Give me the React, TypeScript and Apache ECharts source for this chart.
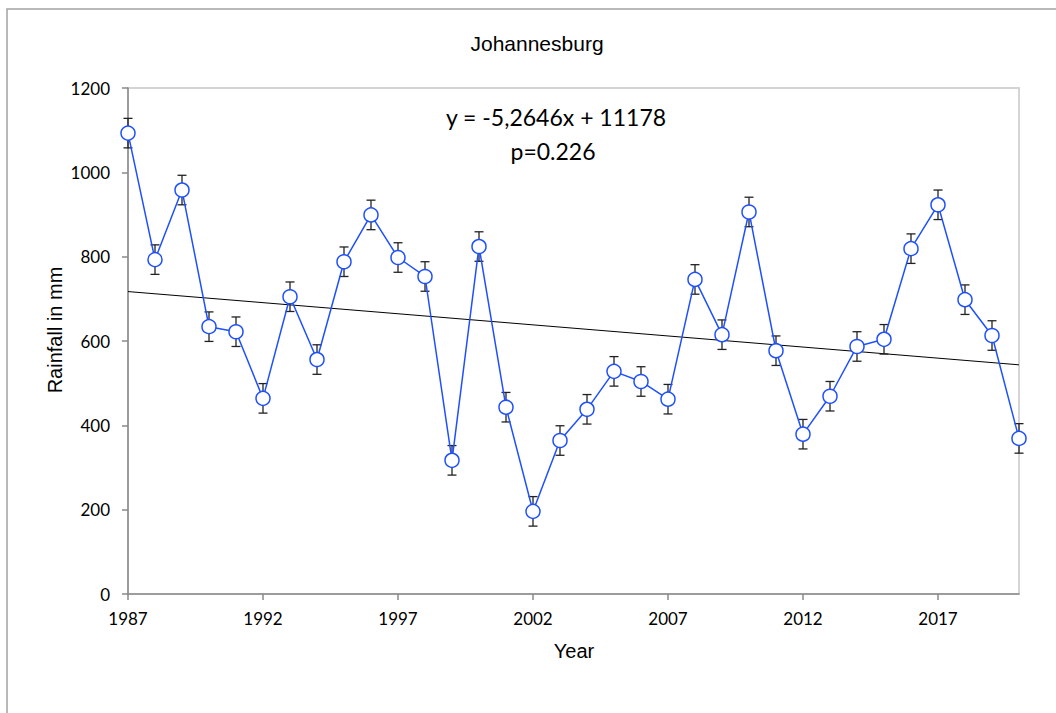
import React, { useEffect, useRef } from "react";
import * as echarts from "echarts";

const years = [1987, 1988, 1989, 1990, 1991, 1992, 1993, 1994, 1995, 1996, 1997, 1998, 1999, 2000, 2001, 2002, 2003, 2004, 2005, 2006, 2007, 2008, 2009, 2010, 2011, 2012, 2013, 2014, 2015, 2016, 2017, 2018, 2019, 2020];
const rainfall = [1093, 793, 958, 634, 622, 464, 705, 556, 788, 899, 798, 753, 317, 824, 443, 196, 364, 438, 528, 504, 462, 746, 615, 906, 577, 379, 469, 587, 604, 819, 923, 698, 613, 369];
const errorMargin = 35;
const xTickValues = [1987, 1992, 1997, 2002, 2007, 2012, 2017];
const yTickInterval = 200;
const trendSlope = -5.2646;
const trendIntercept = 11178;
const titleText = "Johannesburg";
const equationText = "y = -5,2646x + 11178";
const pText = "p=0.226";
const xName = "Year";
const yName = "Rainfall in mm";

const BLUE = "#1e50ff";
const AXIS_GRAY = "#8a8a8a";

export default function App() {
  const ref = useRef<HTMLDivElement>(null);
  useEffect(() => {
    if (!ref.current) return;
    const chart = echarts.init(ref.current, null, { renderer: "svg" });
    const x0 = years[0];
    const x1 = years[years.length - 1];
    const trend = [
      [x0, trendSlope * x0 + trendIntercept],
      [x1, trendSlope * x1 + trendIntercept],
    ];
    const errData = years.map((y, i) => [y, rainfall[i], errorMargin]);
    const pointData = years.map((y, i) => [y, rainfall[i]]);
    chart.setOption({
      animation: false,
      backgroundColor: "#ffffff",
      grid: {
        left: 128,
        right: 37,
        top: 88,
        bottom: 119,
        show: true,
        borderColor: "#d4d4d4",
        borderWidth: 2,
      },
      xAxis: {
        type: "value",
        min: x0,
        max: x1,
        splitLine: { show: false },
        axisLine: { show: true, onZero: false, lineStyle: { color: AXIS_GRAY, width: 1.5 } },
        axisTick: {
          show: true,
          inside: false,
          length: 6,
          customValues: xTickValues,
          lineStyle: { color: AXIS_GRAY, width: 1.5 },
        },
        axisLabel: {
          customValues: xTickValues,
          formatter: (v: number) => String(v),
          margin: 16,
          color: "#000",
          fontFamily: "Lato",
          fontSize: 17,
        },
      },
      yAxis: {
        type: "value",
        min: 0,
        max: 1200,
        interval: yTickInterval,
        splitLine: { show: false },
        axisLine: { show: true, lineStyle: { color: AXIS_GRAY, width: 1.5 } },
        axisTick: { show: true, inside: false, length: 6, lineStyle: { color: AXIS_GRAY, width: 1.5 } },
        axisLabel: {
          formatter: (v: number) => String(v),
          margin: 18,
          color: "#000",
          fontFamily: "Lato",
          fontSize: 17,
        },
      },
      graphic: [
        {
          type: "rect",
          shape: { x: 7, y: 9, width: 1200, height: 900 },
          style: { fill: "none", stroke: "#a3a3a3", lineWidth: 1.5 },
          silent: true,
        },
        {
          type: "text",
          x: 537,
          y: 43,
          style: {
            text: titleText,
            textAlign: "center",
            textVerticalAlign: "middle",
            font: "21px 'Liberation Sans', Arial, sans-serif",
            fill: "#000",
          },
        },
        {
          type: "text",
          x: 556,
          y: 117,
          style: {
            text: equationText,
            textAlign: "center",
            textVerticalAlign: "middle",
            font: "23px Lato, sans-serif",
            fill: "#000",
          },
        },
        {
          type: "text",
          x: 553,
          y: 151,
          style: {
            text: pText,
            textAlign: "center",
            textVerticalAlign: "middle",
            font: "23px Lato, sans-serif",
            fill: "#000",
          },
        },
        {
          type: "text",
          x: 574,
          y: 651,
          style: {
            text: xName,
            textAlign: "center",
            textVerticalAlign: "middle",
            font: "20px 'Liberation Sans', Arial, sans-serif",
            fill: "#000",
          },
        },
        {
          type: "text",
          x: 55,
          y: 330,
          rotation: Math.PI / 2,
          style: {
            text: yName,
            textAlign: "center",
            textVerticalAlign: "middle",
            font: "20px 'Liberation Sans', Arial, sans-serif",
            fill: "#000",
          },
        },
      ],
      series: [
        {
          type: "line",
          data: trend,
          symbol: "none",
          lineStyle: { color: "#000", width: 1 },
          z: 1,
          silent: true,
        },
        {
          type: "custom",
          data: errData,
          z: 2,
          silent: true,
          renderItem: (params: any, api: any) => {
            const x = api.value(0);
            const v = api.value(1);
            const e = api.value(2);
            const top = api.coord([x, v + e]);
            const bot = api.coord([x, v - e]);
            const hw = 4.5;
            const style = { stroke: "#222", lineWidth: 1.3 };
            return {
              type: "group",
              children: [
                { type: "line", shape: { x1: top[0], y1: top[1], x2: bot[0], y2: bot[1] }, style },
                { type: "line", shape: { x1: top[0] - hw, y1: top[1], x2: top[0] + hw, y2: top[1] }, style },
                { type: "line", shape: { x1: bot[0] - hw, y1: bot[1], x2: bot[0] + hw, y2: bot[1] }, style },
              ],
            };
          },
        },
        {
          type: "line",
          data: pointData,
          symbol: "circle",
          symbolSize: 14,
          z: 3,
          lineStyle: { color: BLUE, width: 1.5 },
          itemStyle: { color: "#ffffff", borderColor: BLUE, borderWidth: 1.5 },
        },
      ],
    });
    return () => chart.dispose();
  }, []);
  return (
    <div
      ref={ref}
      style={{ position: "fixed", left: 0, top: 0, width: 1056, height: 713 }}
    />
  );
}
